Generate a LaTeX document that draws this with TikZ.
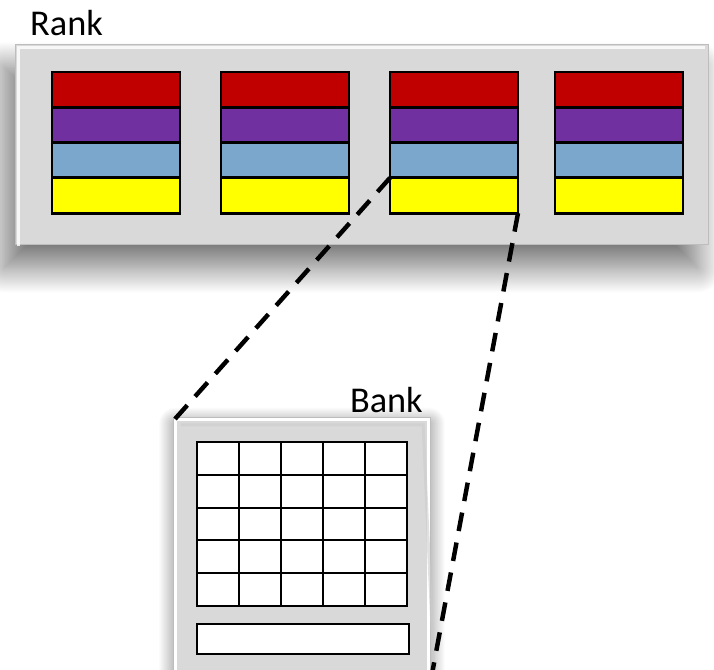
\documentclass[tikz,border=0pt]{standalone}
\usepackage{fontspec}
\setmainfont{Carlito}
\usetikzlibrary{positioning,shadows.blur}
\definecolor{chipred}{HTML}{C00000}
\definecolor{chippurple}{HTML}{7030A0}
\definecolor{chipblue}{HTML}{7BA7CC}
\definecolor{chipyellow}{HTML}{FFFF00}
\definecolor{panelgray}{HTML}{D9D9D9}
\definecolor{paneledge}{HTML}{BDBDBD}
\tikzset{panel/.style={draw=paneledge,fill=panelgray,line width=0.8pt,inner sep=0pt,outer sep=0pt},
  layer/.style={draw=black,line width=2.4pt,minimum width=3.84cm,minimum height=1.059cm,
    inner sep=0pt,outer sep=0pt},
  cell/.style={draw=black,fill=white,line width=1.6pt,minimum width=1.26cm,minimum height=0.984cm,
    inner sep=0pt,outer sep=0pt},
  zoomline/.style={line width=3.8pt,dash pattern=on 16pt off 10pt},
  lbl/.style={font=\fontsize{31}{32}\selectfont,inner sep=0pt}}

\begin{document}
\begin{tikzpicture}[x=0.03cm,y=-0.03cm]
\useasboundingbox (0,0) rectangle (714,670);
\clip (0,0) rectangle (714,670);
% the rank with its four chips
\node[panel,minimum width=20.79cm,minimum height=6cm,
  blur shadow={shadow xshift=-9pt,shadow yshift=-20pt,shadow blur radius=22pt,
    shadow blur steps=40,shadow opacity=55}]
  (rank) at (361.5,144) {};
\draw[white,line width=2pt,opacity=.8] ([xshift=3pt,yshift=-2pt]rank.south west) -- ([xshift=3pt,yshift=-3pt]rank.north west)
  -- ([xshift=-3pt,yshift=-3pt]rank.north east);
\node[lbl,anchor=base west] (ranklbl) at (30,35) {Rank};
\foreach \i/\x in {1/52,2/221,3/390,4/555}{
  \foreach \l/\col in {0/chipred,1/chippurple,2/chipblue,3/chipyellow}{
    \node[layer,fill=\col] (c\i-\l) at (\x+64,89.6+35.3*\l) {};}}
% one bank, zoomed in
\node[panel,draw=white,line width=3pt,minimum width=7.62cm,minimum height=8.13cm,
  blur shadow={shadow xshift=0pt,shadow yshift=-4pt,shadow blur radius=14pt,
    shadow blur steps=30,shadow opacity=55}]
  (bank) at (302,554.5) {};
\draw[paneledge,line width=0.6pt] ([xshift=-1.5pt,yshift=1.5pt]bank.north west) rectangle ([xshift=1.5pt,yshift=-1.5pt]bank.south east);
\draw[black!20,line width=2.5pt,opacity=.6] ([xshift=5pt,yshift=-3pt]bank.south east) -- ([xshift=-5pt,yshift=-5pt]bank.north east)
  -- ([xshift=5pt,yshift=-5pt]bank.north west);
\node[lbl,anchor=base east] (banklbl) at (423,412) {Bank};
\foreach \r in {0,...,4}{
  \foreach \c in {0,...,4}{
    \node[cell] (b\r-\c) at (218+42*\c,458.4+32.8*\r) {};}}
\node[cell,minimum width=6.36cm,minimum height=0.9cm] (rowbuf) at (303,639) {};
% zoom lines from the chip to the bank
\draw[zoomline] (c3-3.north west) -- (bank.north west);
\draw[zoomline] (c3-3.south east) -- (bank.south east);
\end{tikzpicture}
\end{document}
